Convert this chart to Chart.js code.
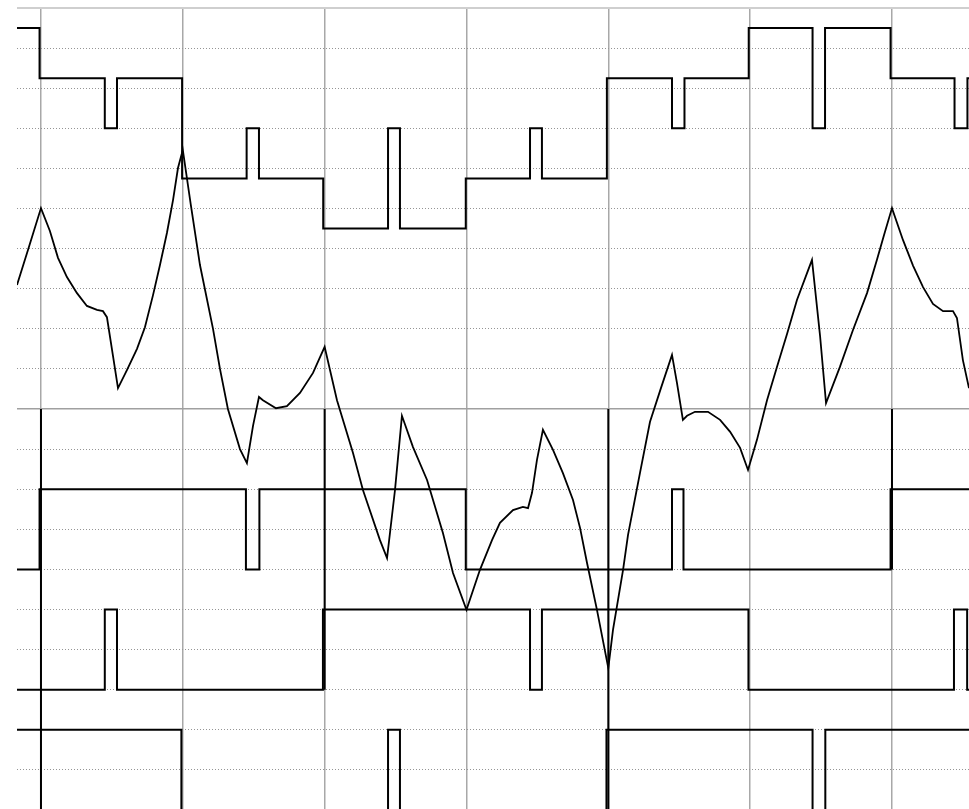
<!DOCTYPE html>
<html>
<head>
<meta charset="utf-8">
<script src="https://cdn.jsdelivr.net/npm/chart.js@4"></script>
<style>
  html, body { margin: 0; padding: 0; background: #fff; }
  canvas { display: block; }
</style>
</head>
<body>
<canvas id="scope" width="969" height="809"></canvas>
<script>
// time axis: one grid division = 10 units
const gridTimes = [0, 10, 20, 30, 40, 50, 60];

// multi-level bus (top): time of change -> new level
const busTimes  = [-1.69, -0.1, 4.5, 5.36, 9.95, 14.5, 15.37, 19.9, 24.47, 25.31, 29.95, 34.48, 35.32, 39.9, 44.49, 45.37, 49.9, 54.4, 55.28, 59.9, 64.41, 65.32, 65.43];
const busLevels = [9.5, 8.25, 7, 8.25, 5.75, 7, 5.75, 4.5, 7, 4.5, 5.75, 7, 5.75, 8.25, 7, 8.25, 9.5, 7, 9.5, 8.25, 7, 8.25, 8.25];

// analog waveform
const waveT = [-1.69, -0.85, 0, 0.63, 1.2, 1.83, 2.54, 3.24, 3.95, 4.37,
  4.65, 5.08, 5.43, 6.06, 6.77, 7.33, 7.9, 8.39, 8.88, 9.31,
  9.66, 10.0, 10.56, 11.21, 12.13, 12.62, 13.18, 14.03, 14.52, 14.95,
  15.37, 15.65, 16.57, 17.34, 18.26, 19.18, 20.0, 20.87, 22.0, 22.7,
  23.9, 24.4, 24.96, 25.45, 26.23, 27.22, 28.34, 29.05, 30.0, 30.95,
  31.8, 32.36, 33.28, 33.98, 34.34, 34.62, 34.97, 35.39, 36.1, 36.8,
  37.51, 38.01, 38.5, 39.2, 40.0, 40.33, 41.04, 41.39, 42.23, 42.94,
  43.71, 44.49, 44.84, 45.26, 45.55, 46.11, 47.03, 47.88, 48.59, 49.29,
  49.85, 50.48, 51.19, 51.89, 52.6, 53.3, 54.01, 54.36, 54.93, 55.35,
  56.33, 57.25, 58.24, 58.94, 59.44, 60.0, 60.78, 61.49, 62.19, 62.89,
  63.6, 64.3, 64.58, 65.0, 65.43];
const waveY = [3.09, 4.04, 5.01, 4.44, 3.77, 3.29, 2.89, 2.57, 2.47, 2.44,
  2.29, 1.32, 0.52, 0.97, 1.5, 2.04, 2.84, 3.59, 4.39, 5.21,
  6.01, 6.46, 5.1, 3.59, 2.0, 1.0, 0.0, -1.0, -1.35, -0.42,
  0.3, 0.22, 0.02, 0.07, 0.4, 0.9, 1.55, 0.22, -1.1, -2.02,
  -3.27, -3.72, -2.02, -0.17, -0.95, -1.77, -3.09, -4.09, -5.01, -4.01,
  -3.27, -2.84, -2.52, -2.44, -2.47, -2.09, -1.27, -0.52, -1.02, -1.6,
  -2.27, -2.97, -3.84, -5.01, -6.46, -5.51, -4.01, -3.14, -1.6, -0.32,
  0.52, 1.35, 0.65, -0.27, -0.17, -0.07, -0.07, -0.27, -0.57, -0.97,
  -1.52, -0.77, 0.22, 1.05, 1.87, 2.72, 3.39, 3.72, 1.82, 0.15,
  1.05, 1.97, 2.89, 3.72, 4.34, 5.01, 4.21, 3.57, 3.04, 2.62,
  2.44, 2.44, 2.27, 1.22, 0.52];

// digital lines (bottom half)
const cTimes  = [-1.69, -0.1, 14.45, 15.4, 29.95, 44.49, 45.3, 59.9, 65.43];
const cLevels = [-4, -2, -4, -2, -4, -2, -4, -2, -2];
const dTimes  = [-1.69, 4.5, 5.36, 19.88, 34.48, 35.32, 49.88, 64.37, 65.3, 65.43];
const dLevels = [-7, -5, -7, -5, -7, -5, -7, -5, -7, -7];
const eTimes  = [-1.69, 9.9, 24.47, 25.31, 39.87, 54.4, 55.3, 65.43];
const eLevels = [-8, -10, -8, -10, -8, -10, -8, -8];

// black edge markers in the lower half
const markTimes = [0, 20, 40, 60];
const markTop = 0;
const markBottom = [-10, -7, -10, -4];

const toPoints = (xs, ys) => xs.map((x, i) => ({ x: x, y: ys[i] }));

const markPoints = [];
markTimes.forEach((t, i) => {
  markPoints.push({ x: t, y: markTop }, { x: t, y: markBottom[i] }, { x: t, y: null });
});

const stepLine = (pts) => ({
  data: pts,
  stepped: true,
  borderColor: '#000',
  borderWidth: 2,
  pointRadius: 0,
  fill: false
});

const data = {
  datasets: [
    stepLine(toPoints(busTimes, busLevels)),
    {
      data: toPoints(waveT, waveY),
      borderColor: '#000',
      borderWidth: 1.8,
      pointRadius: 0,
      tension: 0,
      fill: false
    },
    stepLine(toPoints(cTimes, cLevels)),
    stepLine(toPoints(dTimes, dLevels)),
    stepLine(toPoints(eTimes, eLevels)),
    {
      data: markPoints,
      borderColor: '#000',
      borderWidth: 2,
      pointRadius: 0,
      spanGaps: false,
      fill: false
    }
  ]
};

const options = {
  responsive: false,
  animation: false,
  devicePixelRatio: 1,
  layout: { padding: { left: 17, top: 8, right: 0, bottom: 0 } },
  plugins: {
    legend: { display: false },
    tooltip: { enabled: false }
  },
  scales: {
    x: {
      type: 'linear',
      min: -1.69,
      max: 65.43,
      afterBuildTicks: (scale) => { scale.ticks = gridTimes.map(v => ({ value: v })); },
      ticks: { display: false },
      grid: { color: '#a8a8a8', lineWidth: 1.5, drawTicks: false },
      border: { display: false }
    },
    y: {
      type: 'linear',
      min: -9.975,
      max: 10,
      afterBuildTicks: (scale) => {
        const t = [];
        for (let v = -9; v <= 10; v++) t.push({ value: v });
        scale.ticks = t;
      },
      ticks: { display: false },
      grid: {
        drawTicks: false,
        color: (c) => c.tick.value === 10 ? '#cfcfcf' : (c.tick.value === 0 ? '#a0a0a0' : '#959595'),
        lineWidth: (c) => c.tick.value === 10 ? 2 : (c.tick.value === 0 ? 1.5 : 1)
      },
      border: {
        display: false,
        dash: (c) => (c.tick && c.tick.value % 10 === 0) ? [] : [1, 2]
      }
    }
  }
};

new Chart(document.getElementById('scope'), {
  type: 'line',
  data: data,
  options: options
});
</script>
</body>
</html>
